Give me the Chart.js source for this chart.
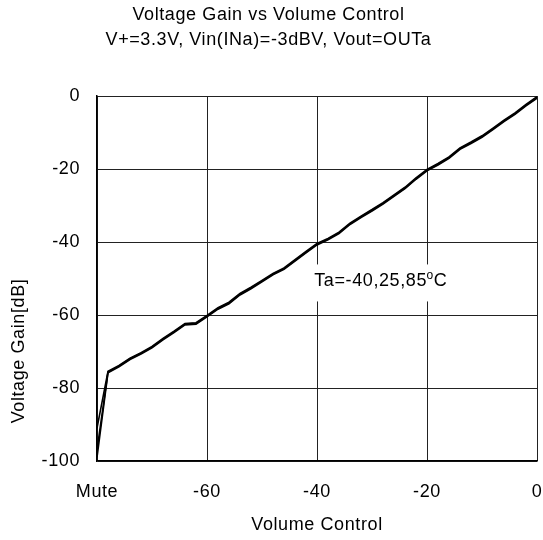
<!DOCTYPE html>
<html>
<head>
<meta charset="utf-8">
<title>Voltage Gain vs Volume Control</title>
<script src="https://cdn.jsdelivr.net/npm/chart.js@4/dist/chart.umd.min.js"></script>
<style>
  html, body { margin: 0; padding: 0; background: #fff; }
  canvas { display: block; }
</style>
</head>
<body>
<canvas id="gainChart" width="543" height="540"></canvas>
<script>
// Volume control setting (dB), -80 is the Mute position
const volumeSteps = [-80, -78, -76, -74, -72, -70, -68, -66, -64, -62, -60, -58, -56, -54, -52, -50, -48, -46, -44, -42, -40,
                     -38, -36, -34, -32, -30, -28, -26, -24, -22, -20, -18, -16, -14, -12, -10, -8, -6, -4, -2, 0];

// Measured voltage gain (dB) at each temperature
const gainTaM40 = [-91.0, -75.4, -73.8, -71.8, -70.3, -68.6, -66.4, -64.4, -62.3, -62.1, -60.1, -58.0, -56.5, -54.1, -52.4, -50.5, -48.6, -47.1, -44.8, -42.6, -40.4,
                   -39.0, -37.3, -34.8, -32.9, -31.1, -29.2, -27.1, -25.0, -22.4, -20.1, -18.5, -16.7, -14.2, -12.6, -10.9, -8.8, -6.6, -4.6, -2.3, -0.2];
const gainTa25 = [-97.0, -75.6, -74.0, -72.0, -70.5, -68.8, -66.6, -64.6, -62.5, -62.3, -60.3, -58.2, -56.7, -54.3, -52.6, -50.7, -48.8, -47.3, -45.0, -42.8, -40.6,
                  -39.2, -37.5, -35.0, -33.1, -31.3, -29.4, -27.3, -25.2, -22.6, -20.3, -18.7, -16.9, -14.4, -12.8, -11.1, -9.0, -6.8, -4.8, -2.5, -0.4];
const gainTa85 = [-99.0, -75.8, -74.2, -72.2, -70.7, -69.0, -66.8, -64.8, -62.7, -62.5, -60.5, -58.4, -56.9, -54.5, -52.8, -50.9, -49.0, -47.5, -45.2, -43.0, -40.8,
                  -39.4, -37.7, -35.2, -33.3, -31.5, -29.6, -27.5, -25.4, -22.8, -20.5, -18.9, -17.1, -14.6, -13.0, -11.3, -9.2, -7.0, -5.0, -2.7, -0.6];

const titleLines = ['Voltage Gain vs Volume Control', 'V+=3.3V, Vin(INa)=-3dBV, Vout=OUTa'];
const xTicks = [-80, -60, -40, -20, 0];
const yTicks = [0, -20, -40, -60, -80, -100];

const FONT = "'Liberation Sans', Arial, sans-serif";
const SPACING = '0.6px';
Chart.defaults.font.family = FONT;
Chart.defaults.font.size = 18;
Chart.defaults.color = '#000';

function toPoints(ys) {
    return volumeSteps.map((x, i) => ({ x: x, y: ys[i] }));
}

function series(label, ys) {
    return {
        label: label,
        data: toPoints(ys),
        borderColor: '#000',
        borderWidth: 1.6,
        pointRadius: 0,
        tension: 0,
        fill: false
    };
}

// slightly wider lettering for every text on the canvas
const letterSpacing = {
    id: 'letterSpacing',
    beforeLayout(chart) { chart.ctx.letterSpacing = SPACING; },
    beforeDraw(chart) { chart.ctx.letterSpacing = SPACING; }
};

// y axis title sits lower than the axis centre, and the temperature note has a white box
const extraText = {
    id: 'extraText',
    afterDatasetsDraw(chart) {
        const ctx = chart.ctx;
        const xs = chart.scales.x;
        const ys = chart.scales.y;

        // temperature note
        const left = xs.getPixelForValue(-40.5);
        const mid = ys.getPixelForValue(-50.8);
        ctx.save();
        ctx.letterSpacing = SPACING;
        ctx.font = '18px ' + FONT;
        const main = 'Ta=-40,25,85';
        const w1 = ctx.measureText(main).width;
        ctx.font = '12px ' + FONT;
        const wo = ctx.measureText('o').width;
        ctx.font = '18px ' + FONT;
        const wc = ctx.measureText('C').width;
        ctx.fillStyle = '#fff';
        ctx.fillRect(left - 3, mid - 17, w1 + wo + wc + 6, 37);
        ctx.fillStyle = '#000';
        ctx.textBaseline = 'middle';
        ctx.textAlign = 'left';
        ctx.fillText(main, left, mid);
        ctx.font = '12px ' + FONT;
        ctx.fillText('o', left + w1 - 0.5, mid - 6);
        ctx.font = '18px ' + FONT;
        ctx.fillText('C', left + w1 + wo - 0.5, mid);

        // y axis title
        ctx.translate(19, 351);
        ctx.rotate(-Math.PI / 2);
        ctx.textAlign = 'center';
        ctx.fillText('Voltage Gain[dB]', 0, 0);
        ctx.restore();
    }
};

const ctx = document.getElementById('gainChart').getContext('2d');
new Chart(ctx, {
    type: 'line',
    data: {
        datasets: [
            series('Ta=-40°C', gainTaM40),
            series('Ta=25°C', gainTa25),
            series('Ta=85°C', gainTa85)
        ]
    },
    options: {
        responsive: false,
        animation: false,
        layout: { padding: { left: 0, right: 6, top: 0, bottom: 0 } },
        plugins: {
            legend: { display: false },
            tooltip: { enabled: false },
            title: {
                display: true,
                text: titleLines,
                font: { size: 18, weight: 'normal', lineHeight: 1.39 },
                padding: { top: 2.5, bottom: 43.5 }
            }
        },
        scales: {
            x: {
                type: 'linear',
                min: -80,
                max: 0,
                afterBuildTicks(scale) {
                    scale.ticks = xTicks.map(v => ({ value: v }));
                },
                afterFit(scale) {
                    scale.height = 79;
                    scale.paddingLeft = 0;
                    scale.paddingRight = 0;
                },
                ticks: {
                    font: { size: 18 },
                    padding: 20,
                    maxRotation: 0,
                    callback: v => (v === -80 ? 'Mute' : v)
                },
                grid: { color: '#222', lineWidth: 1, drawTicks: false },
                border: { color: '#000', width: 1.5 },
                title: {
                    display: true,
                    text: 'Volume Control',
                    font: { size: 18 },
                    padding: { top: 0, bottom: 4 }
                }
            },
            y: {
                type: 'linear',
                min: -100,
                max: 0,
                afterBuildTicks(scale) {
                    scale.ticks = yTicks.map(v => ({ value: v }));
                },
                afterFit(scale) { scale.width = 97; },
                ticks: {
                    font: { size: 18 },
                    padding: 17
                },
                grid: { color: '#222', lineWidth: 1, drawTicks: false },
                border: { color: '#000', width: 1.5 }
            }
        }
    },
    plugins: [letterSpacing, extraText]
});
</script>
</body>
</html>
